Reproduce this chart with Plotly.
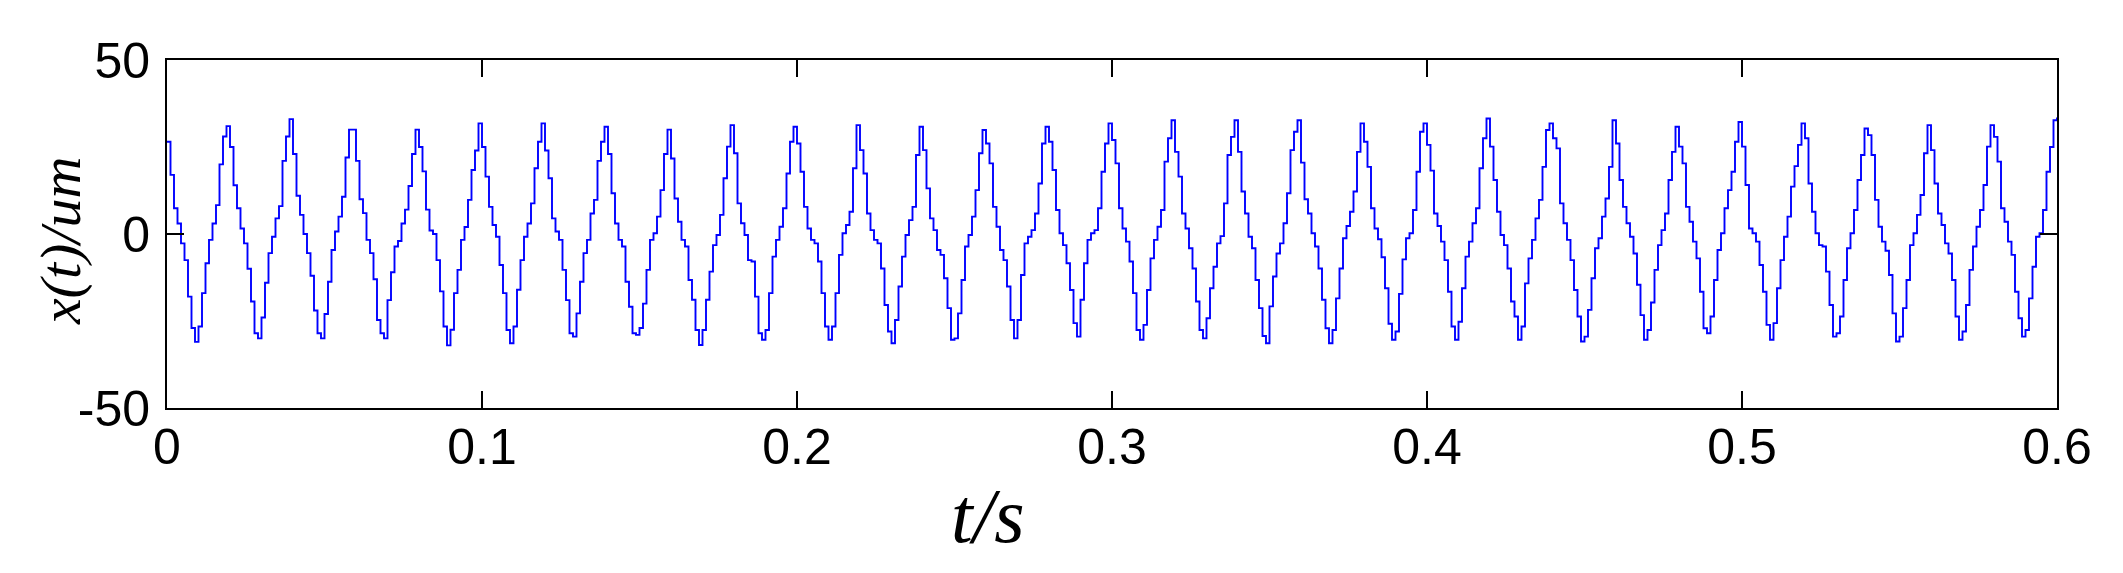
import plotly.graph_objects as go

# sample spacing: 540 held samples over 0.6 s
t_end = 0.6
n_steps = 540

# displacement values, one list per 20 ms cycle (18 held samples each)
cyc00 = [26.5, 17, 7.4, 3, -2.7, -7.5, -18, -27, -31, -26.6, -17, -8.4, -1.7, 3, 8.3, 20, 28, 31]
cyc01 = [25, 14, 7.4, 1.6, -2.7, -10, -19.4, -28.5, -30, -24, -14, -5.5, -0.8, 4.5, 8, 21, 28, 33]
cyc02 = [23, 11, 5.5, 0, -5.5, -12, -22, -28.5, -30, -23, -13.7, -4.6, 0.7, 5, 10.7, 22, 30, 30]
cyc03 = [21, 10, 6, -1.7, -5.5, -13, -24.7, -28.5, -30, -19, -11, -3.6, -2, 3, 7, 13.8, 23, 30]
cyc04 = [25, 18, 7, 1, 0, -7.5, -16.5, -26.6, -32, -27.5, -17, -10.3, -1.7, 2, 9.8, 18.4, 24, 31.8]
cyc05 = [25, 16.5, 7.8, 2.6, -0.8, -8.9, -17, -27.6, -31.4, -26.6, -16, -7.5, -0.8, 3, 8.8, 18.9, 26.5, 31.8]
cyc06 = [24, 16, 4.5, 0.7, -1.7, -10.3, -19, -28.5, -29.5, -22.8, -13.7, -5.5, -1.7, 5.9, 9.8, 21, 26.5, 30.8]
cyc07 = [23, 11.7, 3, -1.7, -3.6, -13.7, -20.9, -28.5, -29, -27, -20, -10.3, -1.7, 0.2, 5, 12.6, 23, 30]
cyc08 = [21.7, 10.2, 3.5, -1.7, -3.6, -13.2, -18.9, -27.6, -31.9, -27.6, -18.9, -10.8, -3.2, -0.3, 5.5, 16.0, 25.1, 31.3]
cyc09 = [23.2, 8.8, 3.1, -0.3, -7.5, -7.9, -18.0, -28.5, -30.4, -27.6, -17.0, -6.5, -1.7, 2.1, 7.4, 17.4, 26.5, 30.8]
cyc10 = [26.0, 17.9, 7.8, 1.6, -1.7, -2.7, -7.9, -17.0, -26.6, -30.4, -26.6, -17.0, -6.0, 0.2, 2.6, 6.4, 18.9, 31.3]
cyc11 = [24.1, 17.4, 5.9, 1.1, -1.7, -2.7, -9.9, -20.4, -28.0, -31.4, -24.7, -15.1, -6.5, -0.3, 4.0, 7.8, 22.7, 30.8]
cyc12 = [24.1, 13.1, 4.5, 1.1, -4.6, -6.0, -12.7, -21.3, -30.4, -30.0, -22.8, -13.2, -3.6, -0.3, 5.0, 12.6, 23.2, 29.9]
cyc13 = [26.0, 20.3, 7.8, 2.1, -4.6, -7.5, -15.1, -24.7, -30.0, -24.7, -11.8, -2.7, -0.8, 1.1, 5.9, 14.5, 26.0, 30.8]
cyc14 = [26.5, 18.4, 6.9, 0.2, -3.2, -8.4, -16.1, -25.6, -29.5, -18.9, -8.4, -1.7, 0.2, 1.1, 7.4, 17.9, 26.0, 31.8]
cyc15 = [27.0, 20.3, 7.4, 1.6, -2.2, -7.9, -17.0, -27.6, -30.4, -26.1, -16.1, -7.0, -1.7, 2.1, 6.9, 20.8, 27.5, 32.7]
cyc16 = [23.6, 16.5, 5.9, 1.6, -4.1, -9.9, -19.4, -27.6, -30.0, -24.2, -15.6, -9.4, -2.7, -0.6, 8.8, 22.7, 27.9, 32.7]
cyc17 = [23.6, 12.2, 5.9, -0.8, -4.1, -13.2, -21.3, -29.3, -31.4, -20.8, -12.2, -5.6, -2.7, 3.1, 11.7, 24.1, 29.4, 32.7]
cyc18 = [20.5, 10.0, 5.9, 0.2, -3.6, -9.9, -18.9, -27.1, -31.4, -27.6, -18.5, -9.9, -1.2, 2.3, 6.4, 12.2, 23.6, 31.8]
cyc19 = [26.5, 19.3, 7.4, 1.6, -1.5, -6.7, -15.6, -25.8, -30.4, -28.0, -17.2, -7.3, -1.2, 0.2, 6.9, 17.9, 29.4, 31.8]
cyc20 = [25.6, 18.2, 5.9, 2.3, -2.2, -7.5, -16.6, -26.6, -30.4, -25.2, -15.6, -6.5, -2.2, 3.1, 7.4, 18.9, 27.5, 33.2]
cyc21 = [25.1, 15.5, 6.4, -0.3, -3.2, -9.9, -19.4, -23.7, -30.4, -26.6, -14.2, -7.0, -1.7, 4.5, 9.8, 19.3, 29.9, 31.8]
cyc22 = [27.5, 24.6, 8.8, 3.1, -1.7, -7.5, -16.1, -23.7, -30.9, -29.5, -21.8, -12.7, -4.1, -1.2, 5.0, 10.2, 19.3, 32.7]
cyc23 = [26.0, 15.5, 7.8, 3.1, -0.8, -5.6, -14.6, -23.3, -30.4, -27.6, -19.7, -10.3, -3.2, 1.1, 5.9, 15.5, 23.6, 30.8]
cyc24 = [25.1, 20.3, 7.8, 3.5, -2.2, -7.0, -16.6, -27.1, -28.5, -23.7, -13.2, -4.6, 0.2, 7.4, 12.6, 17.9, 26.5, 32.2]
cyc25 = [25.1, 14.1, 1.6, 0.2, -2.2, -8.9, -16.6, -26.1, -30.4, -25.6, -15.6, -7.5, -0.8, 5.0, 13.6, 19.5, 25.6, 31.8]
cyc26 = [27.5, 14.5, 6.4, 0.2, -3.2, -3.6, -10.8, -20.4, -29.5, -28.5, -23.7, -13.2, -4.1, 0.2, 6.9, 15.5, 22.7, 30.3]
cyc27 = [28.4, 22.7, 9.8, 2.1, -2.2, -4.8, -11.8, -22.8, -30.9, -29.5, -21.3, -13.2, -3.2, 0.2, 5.5, 11.2, 23.2, 31.3]
cyc28 = [24.1, 14.5, 5.9, 2.6, -2.7, -5.6, -13.2, -23.7, -30.4, -28.0, -20.4, -10.3, -3.6, 2.1, 6.9, 14.1, 25.1, 31.3]
cyc29 = [27.9, 20.8, 7.4, 3.5, -2.2, -6.0, -16.6, -24.2, -29.5, -27.6, -18.5, -9.4, -0.8, 0.2, 6.9, 17.9, 25.0, 32.7]
last_value = [33.5]

x_tick_vals = [0, 0.1, 0.2, 0.3, 0.4, 0.5, 0.6]
x_tick_text = ["0", "0.1", "0.2", "0.3", "0.4", "0.5", "0.6"]
y_tick_vals = [-50, 0, 50]
y_tick_text = ["-50", "0", "50"]

cycles = [cyc00, cyc01, cyc02, cyc03, cyc04, cyc05, cyc06, cyc07, cyc08, cyc09,
          cyc10, cyc11, cyc12, cyc13, cyc14, cyc15, cyc16, cyc17, cyc18, cyc19,
          cyc20, cyc21, cyc22, cyc23, cyc24, cyc25, cyc26, cyc27, cyc28, cyc29]
y = [v for c in cycles for v in c] + last_value
dt = t_end / n_steps
t = [i * dt for i in range(len(y))]

fig = go.Figure()
fig.add_trace(go.Scatter(x=t, y=y, mode="lines", line=dict(color="#0000FF", width=1.9, shape="hv"),
                         showlegend=False, hoverinfo="skip"))

axis_common = dict(showgrid=False, zeroline=False, showline=True, linecolor="black", linewidth=2,
                   mirror="ticks", ticks="inside", ticklen=17, tickwidth=2, tickcolor="black",
                   tickfont=dict(family="Liberation Sans, Arial", size=50, color="black"))

# the page body adds an 8 px margin, so the figure is offset by it
fig.update_layout(
    width=2107, height=557,
    margin=dict(l=159, r=58, t=52, b=157, autoexpand=False),
    paper_bgcolor="white", plot_bgcolor="white",
    xaxis=dict(range=[0, 0.6], tickvals=x_tick_vals, ticktext=x_tick_text,
               ticklabelstandoff=-6, **axis_common),
    yaxis=dict(range=[-50, 50], tickvals=y_tick_vals, ticktext=y_tick_text,
               ticklabelstandoff=5, **axis_common),
)

fig.add_annotation(text="<i>t/s</i>", xref="paper", yref="paper", x=(988 - 167) / 1890, y=-0.31,
                   xanchor="center", yanchor="middle", showarrow=False,
                   font=dict(family="Times New Roman, Liberation Serif", size=78, color="black"))
fig.add_annotation(text="<i>x(t)/um</i>", xref="paper", yref="paper", x=-0.056, y=0.48,
                   xanchor="center", yanchor="middle", textangle=-90, showarrow=False,
                   font=dict(family="Times New Roman, Liberation Serif", size=58, color="black"))

fig.write_html("out.html")
